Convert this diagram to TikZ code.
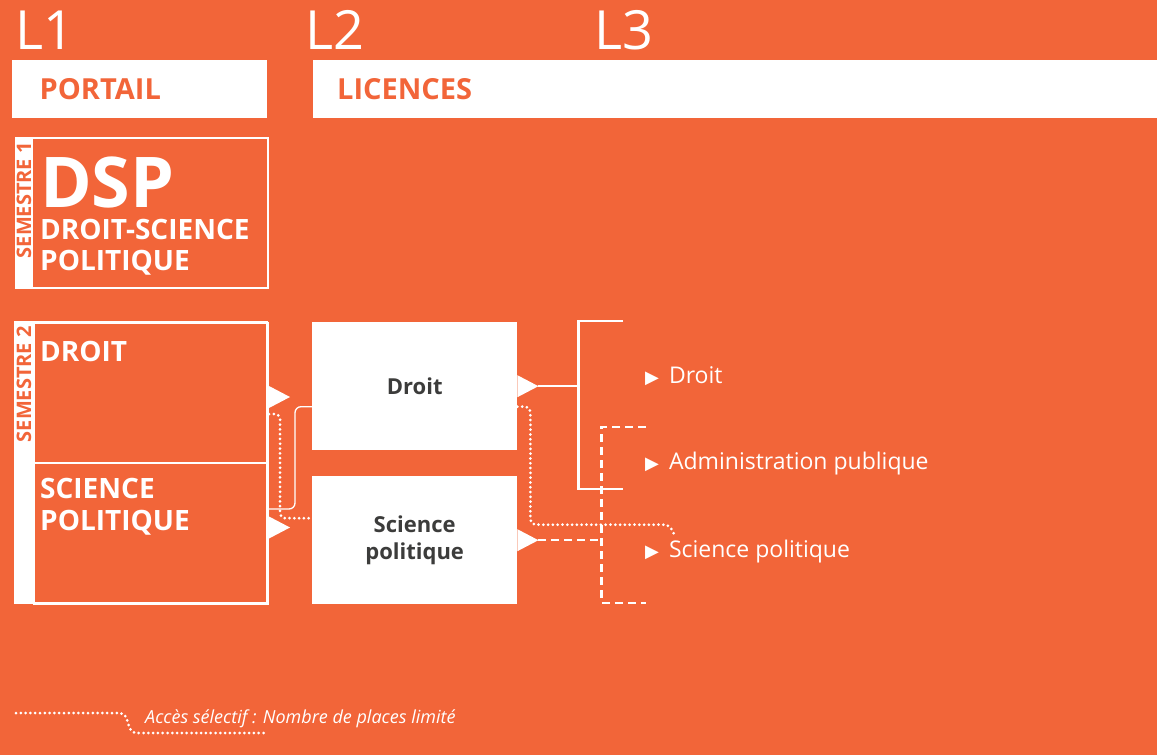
\documentclass[tikz,border=0pt]{standalone}
\usepackage{fontspec}
\setmainfont{Open Sans}
\newfontfamily\symfont{DejaVu Sans}
\usetikzlibrary{positioning}
\definecolor{fondorange}{HTML}{F26539}
\definecolor{textgris}{HTML}{3C3C3B}
\tikzset{
  niveau/.style={text=white, inner sep=0pt, anchor=base west, font=\fontsize{54}{54}\selectfont},
  bandeau/.style={fill=white, inner sep=0pt, anchor=north west, minimum height=58pt},
  titre/.style={text=fondorange, inner sep=0pt, anchor=west, font=\fontsize{29}{29}\selectfont\bfseries},
  cadre/.style={draw=white, line width=2pt, inner sep=0pt, anchor=north west},
  semestre/.style={rotate=90, text=fondorange, inner sep=0pt, anchor=east, font=\fontsize{20}{20}\selectfont\bfseries},
  blanc/.style={text=white, inner sep=0pt, anchor=north west, align=left, font=\fontsize{28}{32}\selectfont\bfseries},
  licence/.style={fill=white, text=textgris, inner sep=0pt, anchor=north west, align=center,
    minimum width=205pt, minimum height=128pt, font=\fontsize{22}{27}\selectfont\bfseries},
  parcours/.style={text=white, inner sep=0pt, anchor=west, font=\fontsize{23}{23}\selectfont},
  trait/.style={white, line width=2.5pt},
  fil/.style={white, line width=1.3pt, rounded corners=6pt},
  tirets/.style={white, line width=2.5pt, dash pattern=on 8pt off 5pt},
  pointille/.style={white, line width=3pt, line cap=round, dash pattern=on 0pt off 4.8pt, rounded corners=5pt}
}
\newcommand\pointe[1]{\fill[white] #1 ++(0,-11) -- ++(21,11) -- ++(-21,11) -- cycle;}
\newcommand\fleche{{\symfont\fontsize{18}{18}\selectfont ▶}\hspace{10pt}}
\begin{document}
\begin{tikzpicture}[x=1pt,y=-1pt]
\useasboundingbox (0,0) rectangle (1157,755);
\fill[fondorange] (0,0) rectangle (1157,755);

% niveaux
\node[niveau] (lA) at (15,49) {L1};
\node[niveau] (lB) at (305,49) {L2};
\node[niveau] (lC) at (594,49) {L3};

\node[bandeau, minimum width=255pt] (portail) at (12,60) {};
\node[titre, right=27.5pt of portail.west] (portailtxt) {PORTAIL};
\node[bandeau, minimum width=850pt] (licences) at (313,60) {};
\node[titre, right=24pt of licences.west] (licencestxt) {LICENCES};

% semestre 1
\fill[white] (15,137) rectangle (33,287);
\node[cadre, minimum width=252pt, minimum height=150pt] (sA) at (15,137) {};
\node[semestre] (sAtxt) at (24,142) {SEMESTRE 1};
\node[blanc, font=\fontsize{28}{31.5}\selectfont\bfseries] (dsp) at (40,157)
  {{\fontsize{70}{70}\selectfont DSP}\\DROIT-SCIENCE\\POLITIQUE};

% semestre 2
\fill[white] (15,322) rectangle (33,603);
\draw[white, line width=2pt] (15,322) rectangle (267,603);
\node[cadre, minimum width=234pt, minimum height=140pt] (sBdr) at (33,322) {};
\node[cadre, minimum width=234pt, minimum height=141pt] (sBsp) at (33,462) {};
\node[semestre] (sBtxt) at (24,326) {SEMESTRE 2};
\node[blanc] (droittxt) at (40,341) {DROIT};
\node[blanc] (sptxt) at (40,478) {SCIENCE\\POLITIQUE};
\pointe{([yshift=-4pt]sBdr.east)}
\pointe{([yshift=6pt]sBsp.east)}

% licences
\node[licence] (bDr) at (312,322) {Droit};
\node[licence] (bSP) at (312,476) {Science\\politique};
\pointe{(bDr.east)}
\pointe{(bSP.east)}

\draw[fil] ([yshift=24.5pt]sBsp.east) -- ++(26,0) |- ([yshift=-20.5pt]bDr.west);
\draw[pointille] ([yshift=-21pt]sBdr.east) -- ++(11,0) |- ([yshift=22pt]bSP.west);

% parcours L3
\node[parcours] (itDr) at (645,376) {\fleche Droit};
\node[parcours] (itAP) at (645,464) {\fleche Administration publique};
\node[parcours] (itSP) at (645,552) {\fleche Science politique};

\draw[trait] ([xshift=21pt]bDr.east) -- ++(40,0) coordinate (brA);
\coordinate (accA) at (623,321);
\coordinate (accB) at (623,489);
\draw[trait] (accA) -| (brA) |- (accB);

\draw[tirets] ([xshift=21pt]bSP.east) -- ++(63,0) coordinate (brB);
\coordinate (accC) at (646,427);
\coordinate (accD) at (646,603);
\draw[tirets] (accC) -| (brB) |- (accD);

\draw[pointille] ([yshift=-20.5pt]bDr.east) -- ++(13,0) |- ++(139,118) -- ++(6,12);

% legende
\node[parcours, font=\fontsize{18}{18}\selectfont\itshape] (legende) at (145,719) {Accès sélectif : Nombre de places limité};
\draw[pointille] (16,713) -- (125,713) -- (131,733) -- (268,733);
\end{tikzpicture}
\end{document}
